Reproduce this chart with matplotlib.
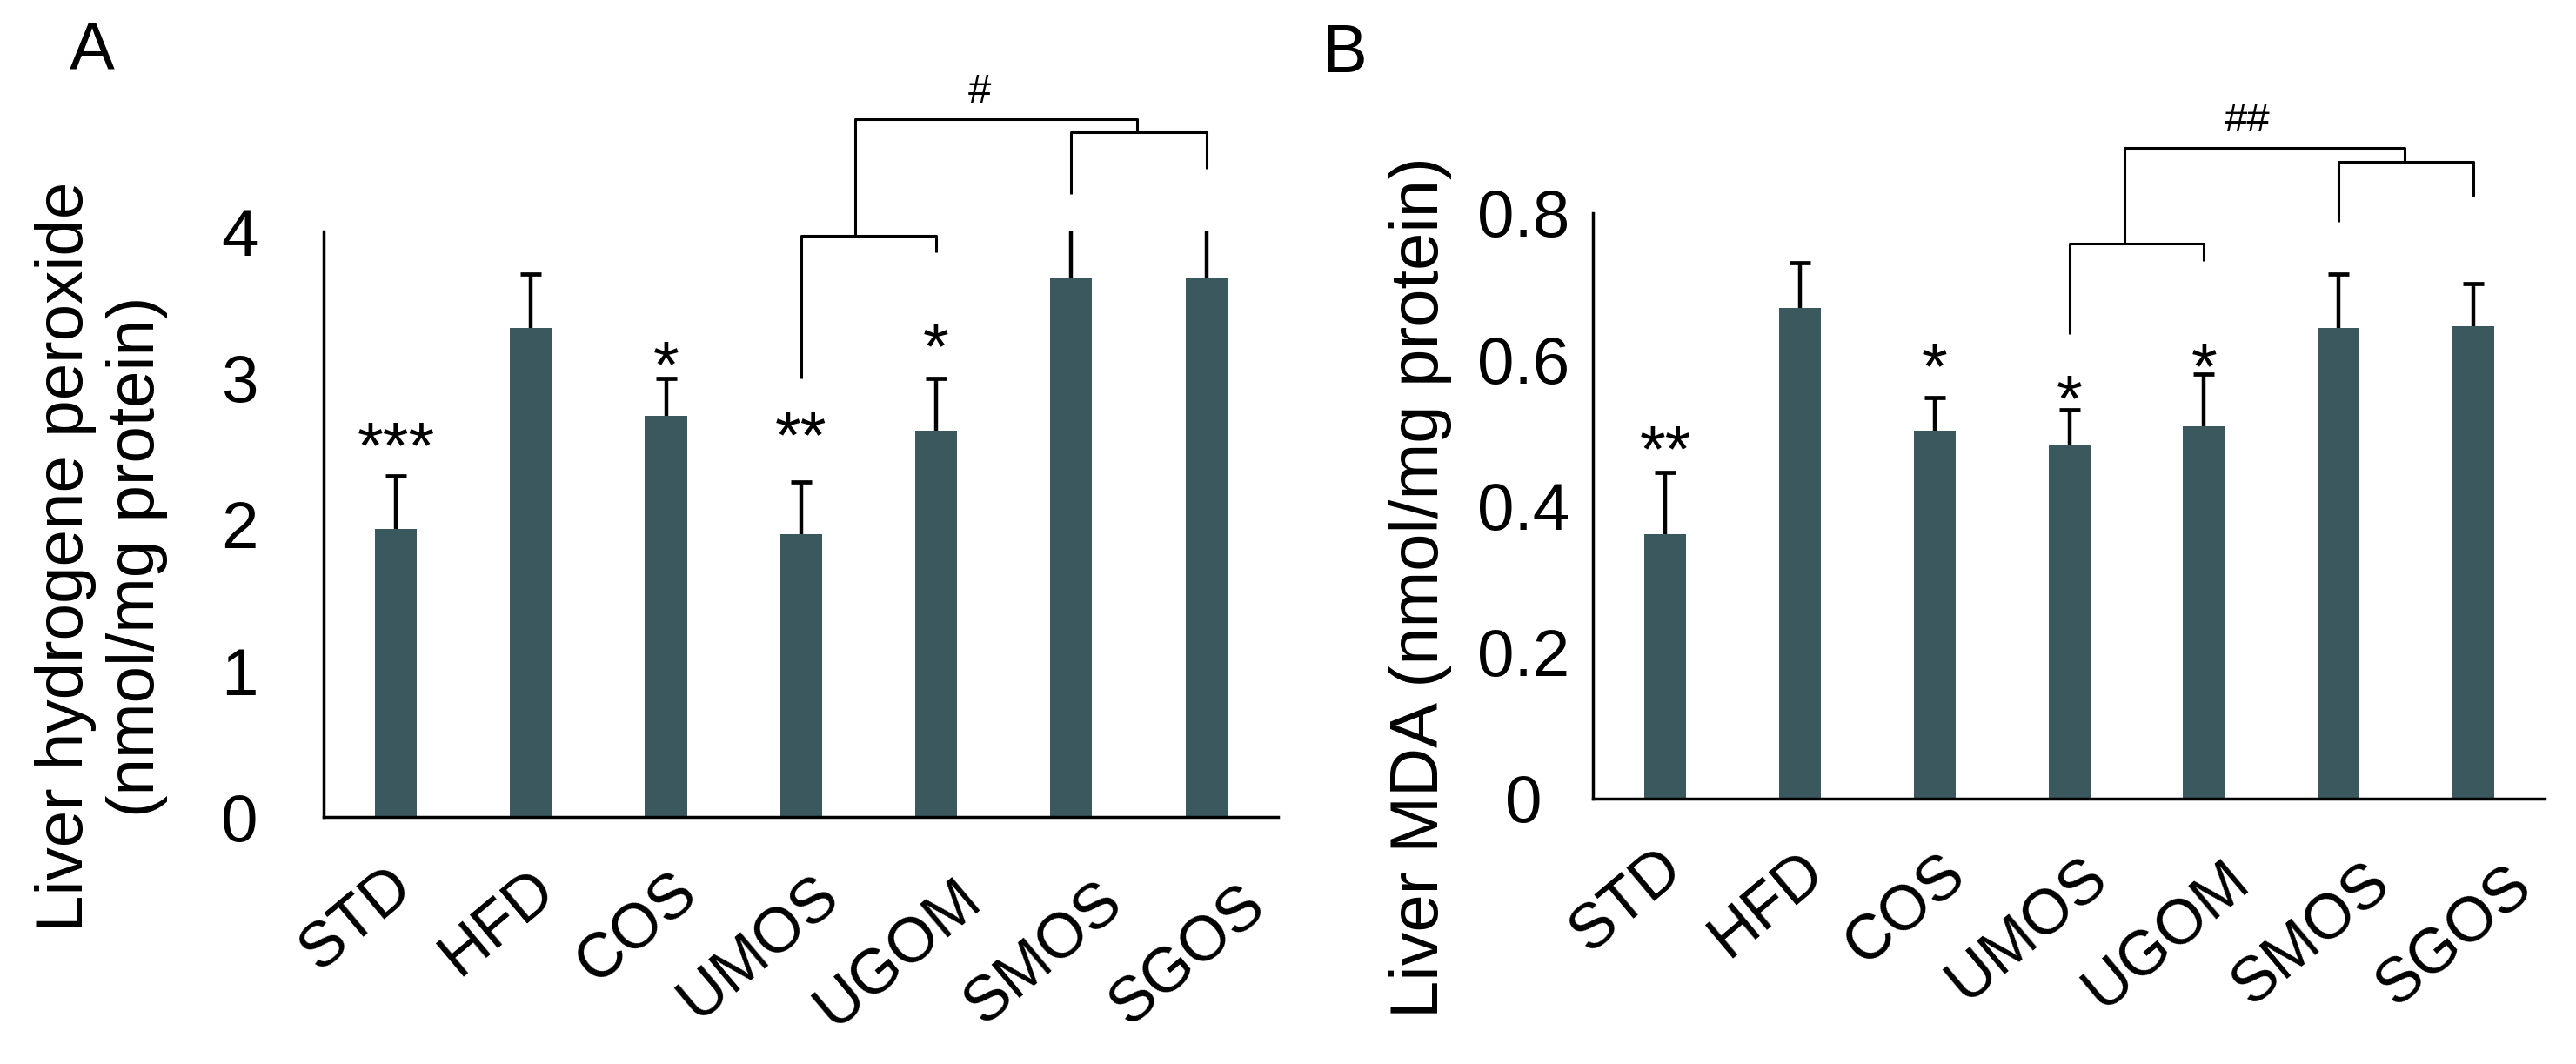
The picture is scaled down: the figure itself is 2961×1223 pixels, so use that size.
#---------------------------------------------------------------------------------------------------------------------------
# Liver hydrogene peroxide (A) and liver MDA (B) bar charts with error bars and significance brackets
#---------------------------------------------------------------------------------------------------------------------------
import numpy as np                              # Arrays
import matplotlib                               # Matplotlib
matplotlib.use('Agg')
import matplotlib.pyplot as plt                 # Plotting library
from matplotlib.transforms import ScaledTranslation

plt.rcParams['font.family'] = ['Liberation Sans', 'DejaVu Sans']
#---------------------------------------------------------------------------------------------------------------------------
# Data
groups = ['STD', 'HFD', 'COS', 'UMOS', 'UGOM', 'SMOS', 'SGOS']

# Panel A: liver hydrogene peroxide (nmol/mg protein)
h2o2_mean = [1.97, 3.345, 2.74, 1.935, 2.64, 3.69, 3.69]
h2o2_err = [0.36, 0.365, 0.26, 0.355, 0.36, 0.37, 0.37]
h2o2_stars = ['***', '', '*', '**', '*', '', '']
h2o2_star_y = [2.65, 0, 3.20, 2.72, 3.325, 0, 0]
h2o2_ticks = [0, 1, 2, 3, 4]
h2o2_ticklabels = ['0', '1', '2', '3', '4']

# Panel A brackets: legs bottoms (UMOS, UGOM, SMOS, SGOS), bracket tops, joint level, joint x, sign
h2o2_legs = [3.00, 3.86, 4.26, 4.43]
h2o2_br_tops = [3.976, 4.68]
h2o2_joint = 4.77
h2o2_joint_x = [3.40, 5.49]
h2o2_sign = '#'
h2o2_sign_pos = [4.32, 4.98]

# Panel B: liver MDA (nmol/mg protein)
mda_mean = [0.3615, 0.6705, 0.5026, 0.483, 0.508, 0.6425, 0.645]
mda_err = [0.0835, 0.0615, 0.045, 0.0477, 0.0717, 0.0735, 0.059]
mda_stars = ['**', '', '*', '*', '*', '', '']
mda_star_y = [0.499, 0, 0.6125, 0.568, 0.6125, 0, 0]
mda_ticks = [0, 0.2, 0.4, 0.6, 0.8]
mda_ticklabels = ['0', '0.2', '0.4', '0.6', '0.8']

mda_legs = [0.634, 0.7346, 0.788, 0.822]
mda_br_tops = [0.758, 0.8697]
mda_joint = 0.889
mda_joint_x = [3.41, 5.49]
mda_sign = '##'
mda_sign_pos = [4.32, 0.931]
#---------------------------------------------------------------------------------------------------------------------------
bar_color = '#3a585e'
fs_tick = 55
fs_xtick = 52

fig = plt.figure(figsize=(29.61, 12.23), dpi=100)

def draw_panel(ax, mean, err, stars, star_y, ticks, ticklabels, legs, br_tops, joint, joint_x, sign, sign_pos, ylab_pad, ylab_ha):
    x = np.arange(len(groups))
    mean = np.array(mean)
    err = np.array(err)
    ax.bar(x, mean, width=0.31, color=bar_color, zorder=2)

    # Upper error bars only, cap on top
    ax.errorbar(x, mean, yerr=[np.zeros(len(err)), err], fmt='none', ecolor='black', elinewidth=3.2, capsize=0, zorder=3)
    ax.plot(x, mean + err, linestyle='none', marker='_', markersize=17, markeredgewidth=3.4, color='black', zorder=3)

    ax.set_xlim(-0.535, 6.53)
    ax.set_ylim(0, ticks[-1])

    # Spines
    for side in ['top', 'right']:
        ax.spines[side].set_visible(False)
    for side in ['left', 'bottom']:
        ax.spines[side].set_linewidth(2.5)

    # Y axis
    ax.set_yticks(ticks)
    ax.set_yticklabels(ticklabels, fontsize=fs_tick)
    ax.tick_params(axis='y', length=0, pad=ylab_pad)
    for lbl in ax.get_yticklabels():
        lbl.set_ha(ylab_ha)

    # X axis, rotated labels
    ax.set_xticks(x)
    ax.set_xticklabels(groups, fontsize=fs_xtick, rotation=40, ha='right', va='top', rotation_mode='anchor')
    ax.tick_params(axis='x', length=0, pad=0)
    for i, lbl in enumerate(ax.get_xticklabels()):
        lbl.set_transform(lbl.get_transform() +
                          ScaledTranslation((-11 + 8 * i) / 100, -(45 + 3.5 * i) / 100, fig.dpi_scale_trans))

    # Significance stars
    for i, s in enumerate(stars):
        if s:
            ax.annotate(s, (x[i], star_y[i]), xytext=(0, -0.57 * fs_tick), textcoords='offset points',
                        ha='center', va='baseline', fontsize=fs_tick, annotation_clip=False)

    # Brackets
    kw = dict(color='black', lw=2.2, clip_on=False, solid_capstyle='butt')
    ax.plot([3, 3, 4, 4], [legs[0], br_tops[0], br_tops[0], legs[1]], **kw)
    ax.plot([5, 5, 6, 6], [legs[2], br_tops[1], br_tops[1], legs[3]], **kw)
    ax.plot([joint_x[0], joint_x[0], joint_x[1], joint_x[1]], [br_tops[0], joint, joint, br_tops[1]], **kw)
    ax.annotate(sign, (sign_pos[0], sign_pos[1]), xytext=(0, -0.35 * 34), textcoords='offset points',
                ha='center', va='baseline', fontsize=34, annotation_clip=False)

#---------------------------------------------------------------------------------------------------------------------------
# Panel A
ax1 = fig.add_axes([0.1256, 0.232, 0.3705, 0.5501])
draw_panel(ax1, h2o2_mean, h2o2_err, h2o2_stars, h2o2_star_y, h2o2_ticks, h2o2_ticklabels,
           h2o2_legs, h2o2_br_tops, h2o2_joint, h2o2_joint_x, h2o2_sign, h2o2_sign_pos, 54, 'right')
fig.text(0.0395, 0.4767, 'Liver hydrogene peroxide\n(nmol/mg protein)', rotation=90, ha='center', va='center',
         fontsize=55, linespacing=1.2, multialignment='center')
fig.text(0.0358, 0.9518, 'A', ha='center', va='center', fontsize=56)

# Panel B
ax2 = fig.add_axes([0.6185, 0.2494, 0.3694, 0.5505])
draw_panel(ax2, mda_mean, mda_err, mda_stars, mda_star_y, mda_ticks, mda_ticklabels,
           mda_legs, mda_br_tops, mda_joint, mda_joint_x, mda_sign, mda_sign_pos, 58, 'center')
fig.text(0.5515, 0.4481, 'Liver MDA (nmol/mg protein)', rotation=90, ha='center', va='center', fontsize=56)
fig.text(0.5221, 0.9493, 'B', ha='center', va='center', fontsize=56)
#---------------------------------------------------------------------------------------------------------------------------
# Save the image
plt.savefig('out.png', dpi=100)
